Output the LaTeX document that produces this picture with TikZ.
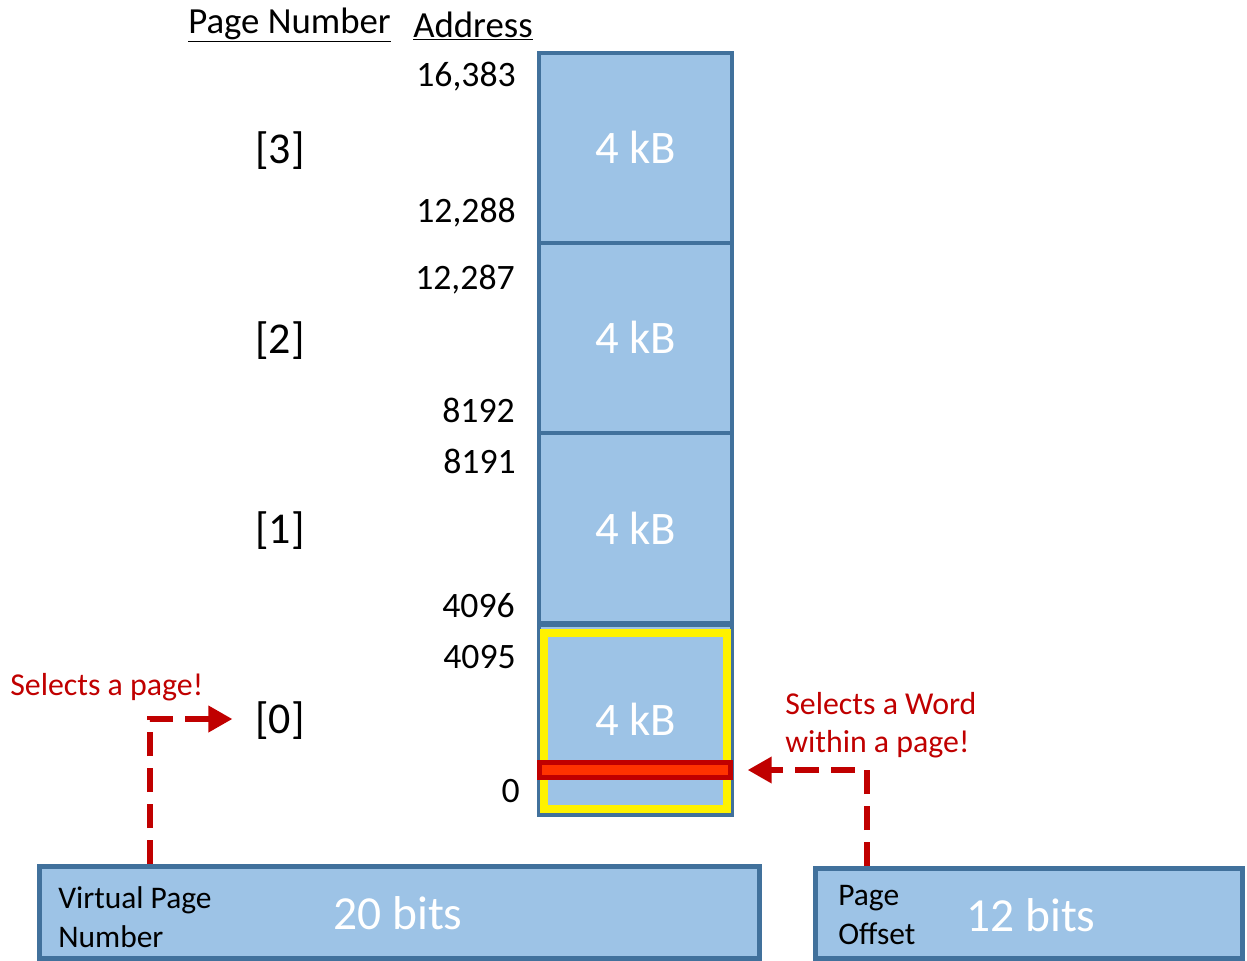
\documentclass[tikz,border=0pt]{standalone}
\usepackage{fontspec}
\setmainfont{Carlito}
\usetikzlibrary{arrows.meta}
\definecolor{bfill}{HTML}{9DC3E6}
\definecolor{bline}{HTML}{41719C}
\definecolor{dred}{HTML}{C00000}
\definecolor{rbar}{HTML}{FF3300}
\begin{document}
\begin{tikzpicture}[x=0.75pt,y=-0.75pt,
  mem/.style={draw=bline, fill=bfill, line width=3pt, minimum width=144.75pt, minimum height=142.5pt, inner sep=0pt, text=white, font=\fontsize{35}{42}\selectfont},
  bitbox/.style={draw=bline, fill=bfill, line width=3.75pt, inner sep=0pt},
  num/.style={anchor=base east, inner sep=0pt, font=\fontsize{26.8}{32}\selectfont},
  idx/.style={inner sep=0pt, font=\fontsize{33}{40}\selectfont},
  hdr/.style={anchor=base west, inner sep=0pt, font=\fontsize{27.6}{33}\selectfont},
  note/.style={anchor=base west, inner sep=0pt, text=dred, font=\fontsize{23.9}{28.5}\selectfont},
  lbl/.style={anchor=base west, inner sep=0pt, font=\fontsize{23.6}{29}\selectfont},
  bits/.style={anchor=base, inner sep=0pt, text=white, font=\fontsize{35.6}{42}\selectfont},
  arr/.style={dred, line width=4.3pt, dash pattern=on 18pt off 9pt, -{Triangle[length=18pt,width=19pt]}}
]
\useasboundingbox (0,0) rectangle (1247,961);

% headers
\node[hdr] (hpn) at (188,33) {\underline{Page Number}};
\node[hdr] (had) at (413,37) {\underline{Address}};

% memory pages
\node[mem] (m3) at (635.5,147.5) {4 kB};
\node[mem] (m2) at (635.5,337.5) {4 kB};
\node[mem] (m1) at (635.5,528) {4 kB};
\node[mem] (m0) at (635.5,719.5) {4 kB};

% highlighted page and word
\draw[yellow, line width=6pt] (544,632.5) rectangle (727,809);
\node[draw=dred, fill=rbar, line width=3.75pt, minimum width=143.25pt, minimum height=11.25pt, inner sep=0pt] (bar) at (635,770) {};

% addresses
\node[num] (a16383) at (516,86) {16,383};
\node[num] (a12288) at (516,222) {12,288};
\node[num] (a12287) at (515,289) {12,287};
\node[num] (a8192) at (515,422) {8192};
\node[num] (a8191) at (516,473) {8191};
\node[num] (a4096) at (515,617) {4096};
\node[num] (a4095) at (516,668) {4095};
\node[num] (a0) at (520,802) {0};

% page numbers
\node[idx] (p3) at (280,151) {[3]};
\node[idx] (p2) at (280,341) {[2]};
\node[idx] (p1) at (280,531) {[1]};
\node[idx] (p0) at (280,721) {[0]};

% notes
\node[note] (n1) at (10,695) {Selects a page!};
\node[note] (n2) at (785,714) {Selects a Word};
\node[note] (n3) at (785,752) {within a page!};

% address fields
\node[bitbox, minimum width=540pt, minimum height=69pt] (vpn) at (399,912.5) {};
\node[bitbox, minimum width=320.6pt, minimum height=67.5pt] (po) at (1029.25,913.5) {};
\node[lbl] (vpnl1) at (58,908) {Virtual Page};
\node[lbl] (vpnl2) at (58,947) {Number};
\node[bits] (vpnb) at (398,929) {20 bits};
\node[lbl] (pol1) at (838,905) {Page};
\node[lbl] (pol2) at (838,944) {Offset};
\node[bits] (pob) at (1031,931) {12 bits};

% connectors
\coordinate (lx) at (150,0);
\coordinate (rx) at (867,0);
\draw[arr] (vpn.north -| lx) |- ([xshift=-17pt,yshift=1.5pt]p0.west);
\draw[arr] (po.north -| rx) |- ([xshift=11pt]bar.east);
\end{tikzpicture}
\end{document}
